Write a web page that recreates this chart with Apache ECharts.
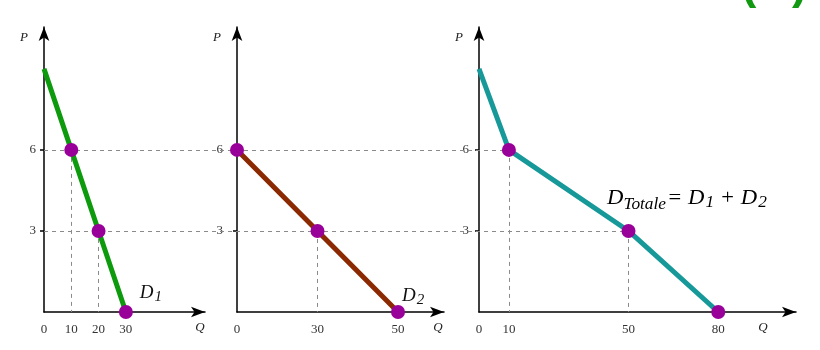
<!DOCTYPE html>
<html><head><meta charset="utf-8">
<script src="https://cdn.jsdelivr.net/npm/echarts@6/dist/echarts.min.js"></script>
<style>html,body{margin:0;padding:0;background:#fff}#c{width:820px;height:350px}</style>
</head><body><div id="c"></div>
<script>
// ---- data ----
const q1 = [0, 10, 20, 30];          // D1 quantities
const p1 = [9, 6, 3, 0];             // D1 prices
const q2 = ['0', '30', '50'];        // D2 quantities (tick categories)
const p2 = [6, 3, 0];                // D2 prices
const qT = [0, 10, 50, 80];          // D total quantities
const pT = [9, 6, 3, 0];             // D total prices
const priceTicks = [3, 6];
const q1Ticks = [0, 10, 20, 30];
const qTTicks = [0, 10, 50, 80];
const guides1 = [[10, 6], [20, 3]];
const guides2 = [['30', 3]];
const guidesT = [[10, 6], [50, 3]];

// ---- layout ----
const TOP = 27, H = 285, YMAX = 10.55;
const G = [
  {left: 44, width: 161},
  {left: 237, width: 207},
  {left: 479, width: 317}
];
const G2DATA_W = 161;
const X1MAX = 59, X3MAX = 106;
const SERIF = 'Liberation Serif, DejaVu Serif, serif';
const dotColor = '#990099';
const dash = {color: '#8a8a8a', type: [4, 4], width: 1};

function pxT(q) { return G[2].left + q * G[2].width / X3MAX; }

const grids = G.map(g => ({left: g.left, top: TOP, width: g.width, height: H, outerBoundsMode: 'none'}));
// overlay grids for the long horizontal guide lines (end at the total-demand points)
grids.push({left: G[0].left, top: TOP, width: pxT(guidesT[0][0]) - G[0].left, height: H, outerBoundsMode: 'none'});
grids.push({left: G[0].left, top: TOP, width: pxT(guidesT[1][0]) - G[0].left, height: H, outerBoundsMode: 'none'});
// data grid of panel 2
grids.push({left: G[1].left, top: TOP, width: G2DATA_W, height: H, outerBoundsMode: 'none'});

function yAx(i, lblMargin) {
  return {
    gridIndex: i, type: 'value', min: 0, max: YMAX,
    name: 'P', nameLocation: 'end', nameGap: -4,
    nameTextStyle: {fontFamily: SERIF, fontStyle: 'italic', fontSize: 13, color: '#222', align: 'right', verticalAlign: 'top', padding: [0, 16, 0, 0]},
    axisLine: {show: true, symbol: ['none', 'arrow'], symbolSize: [8, 14], lineStyle: {color: '#000', width: 1.5}},
    axisTick: {show: true, customValues: priceTicks, length: 4, lineStyle: {color: '#000', width: 1.5}},
    axisLabel: {customValues: priceTicks, margin: lblMargin, fontFamily: SERIF, fontSize: 13, color: '#333', padding: [0, 0, 7, 0]},
    splitLine: {show: false}
  };
}
function xName(gap) {
  return {name: 'Q', nameLocation: 'end', nameGap: gap,
    nameTextStyle: {fontFamily: SERIF, fontStyle: 'italic', fontSize: 13, color: '#222', align: 'center', verticalAlign: 'top', padding: [9, 0, 0, 0]}};
}
const axLine = {show: true, onZero: false, symbol: ['none', 'arrow'], symbolSize: [8, 14], lineStyle: {color: '#000', width: 1.5}};
const xLbl = {margin: 11, fontFamily: SERIF, fontSize: 13, color: '#333'};

const xAxes = [
  Object.assign({gridIndex: 0, type: 'value', min: 0, max: X1MAX, axisLine: axLine, axisTick: {show: false},
    axisLabel: Object.assign({customValues: q1Ticks}, xLbl), splitLine: {show: false}}, xName(-5)),
  Object.assign({gridIndex: 1, type: 'value', min: 0, max: 1, axisLine: axLine, axisTick: {show: false},
    axisLabel: {show: false}, splitLine: {show: false}}, xName(-6)),
  Object.assign({gridIndex: 2, type: 'value', min: 0, max: X3MAX, axisLine: axLine, axisTick: {show: false},
    axisLabel: Object.assign({customValues: qTTicks}, xLbl), splitLine: {show: false}}, xName(-33)),
  {gridIndex: 3, type: 'value', min: 0, max: 1, show: false},
  {gridIndex: 4, type: 'value', min: 0, max: 1, show: false},
  {gridIndex: 5, type: 'category', data: q2, boundaryGap: false, axisLine: {show: false}, axisTick: {show: false},
    axisLabel: Object.assign({interval: 0}, xLbl), splitLine: {show: false}}
];
const yAxes = [yAx(0, 8), yAx(1, 14), yAx(2, 10),
  {gridIndex: 3, type: 'value', min: 0, max: YMAX, show: false},
  {gridIndex: 4, type: 'value', min: 0, max: YMAX, show: false},
  {gridIndex: 5, type: 'value', min: 0, max: YMAX, show: false}];

const richD = {
  d: {fontFamily: SERIF, fontStyle: 'italic', fontSize: 19, color: '#111'},
  s: {fontFamily: SERIF, fontStyle: 'italic', fontSize: 15, color: '#111', padding: [9, 0, 0, 1]}
};

function pts(qs, ps, firstHidden, lastLabel) {
  return qs.map((q, i) => {
    const it = {value: [q, ps[i]]};
    if (i === 0 && firstHidden) it.symbol = 'none';
    if (i === qs.length - 1 && lastLabel) it.label = lastLabel;
    return it;
  });
}
function vGuides(list) {
  return list.map(g => [{coord: [g[0], g[1]]}, {coord: [g[0], 0]}]);
}
function demand(i, qs, ps, color, firstHidden, lastLabel, guides) {
  return {
    type: 'line', xAxisIndex: i, yAxisIndex: i, z: 3,
    data: pts(qs, ps, firstHidden, lastLabel),
    symbol: 'circle', symbolSize: 14, showAllSymbol: true,
    itemStyle: {color: dotColor},
    lineStyle: {color: color, width: 5},
    label: {show: false},
    emphasis: {disabled: true}, animation: false,
    markLine: {silent: true, symbol: 'none', label: {show: false}, lineStyle: dash, data: vGuides(guides), animation: false, z: 1}
  };
}
function hGuide(i, level) {
  return {type: 'line', xAxisIndex: i, yAxisIndex: i, data: [], z: 1, animation: false,
    markLine: {silent: true, symbol: 'none', label: {show: false}, lineStyle: dash, data: [{yAxis: level}], animation: false, z: 1}};
}

const lbl1 = {show: true, position: [21, -24], formatter: '{d|D}{s|1}', rich: richD};
const lbl2 = {show: true, position: [11, -21], formatter: '{d|D}{s|2}', rich: richD};

const option = {
  backgroundColor: '#fff',
  animation: false,
  grid: grids,
  xAxis: xAxes,
  yAxis: yAxes,
  series: [
    hGuide(3, guidesT[0][1]),
    hGuide(4, guidesT[1][1]),
    demand(0, q1, p1, '#0d9a0d', true, lbl1, guides1),
    demand(5, q2, p2, '#8b2a02', false, lbl2, guides2),
    demand(2, qT, pT, '#17999a', true, null, guidesT)
  ],
  graphic: [
    {type: 'text', left: 607, top: 188, scaleX: 1.08, style: {
      text: '{d|D}{t|Totale}{d|= D}{s|1}{d| + D}{s|2}',
      rich: {
        d: {fontFamily: SERIF, fontStyle: 'italic', fontSize: 21, color: '#111'},
        t: {fontFamily: SERIF, fontStyle: 'italic', fontSize: 16, color: '#111', padding: [12, 1, 0, 0]},
        s: {fontFamily: SERIF, fontStyle: 'italic', fontSize: 16, color: '#111', padding: [9, 0, 0, 1]}
      }}},
    {type: 'text', left: 741, top: -38, style: {text: '(w)', font: 'bold 46px Liberation Sans', fill: '#119911'}}
  ]
};
const chart = echarts.init(document.getElementById('c'), null, {renderer: 'canvas'});
chart.setOption(option);
</script></body></html>
